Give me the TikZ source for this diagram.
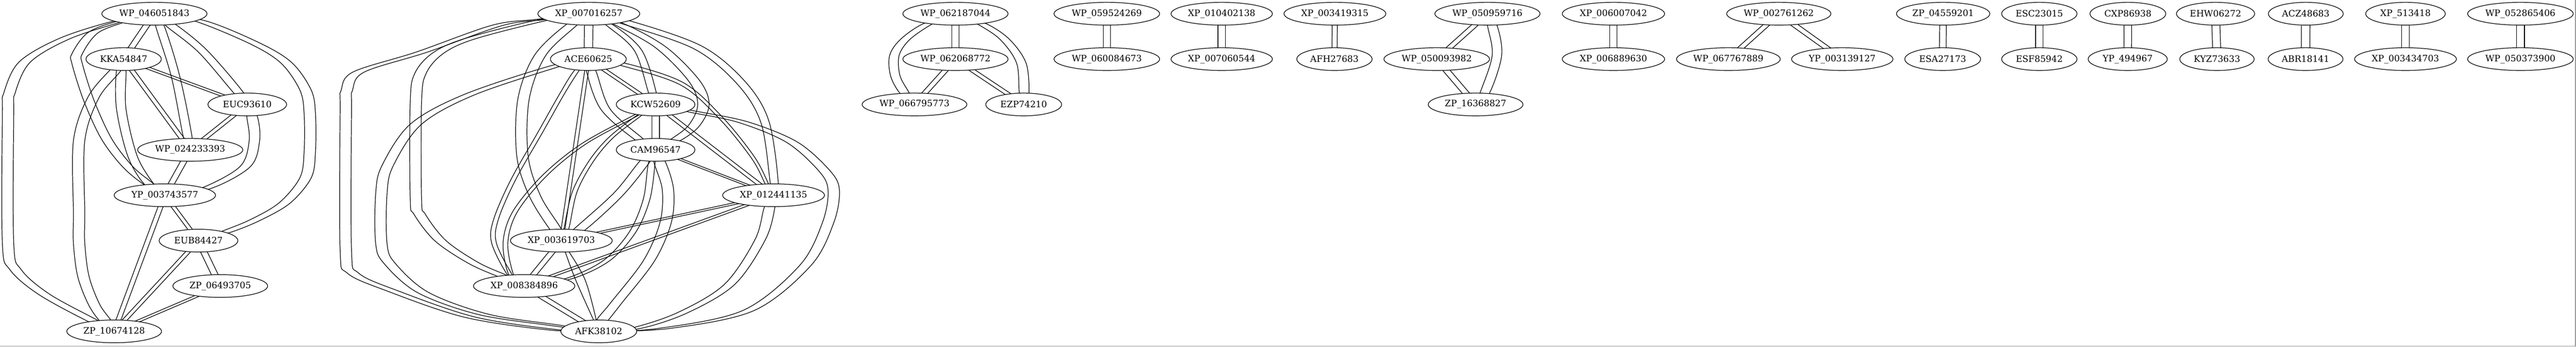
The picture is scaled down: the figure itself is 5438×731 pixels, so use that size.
\documentclass[tikz,border=0pt]{standalone}
\usepackage{fontspec}
\setmainfont{DejaVu Serif}
\usetikzlibrary{calc,shapes.geometric,backgrounds}
\tikzset{
  nd/.style={draw, ellipse, fill=white, line width=1pt, minimum height=36pt, inner sep=0pt, font=\fontsize{14}{16}\selectfont},
  wd/.style={minimum width=#1*0.75pt},
  lnk/.style={line width=1pt, line join=round}
}
\newcommand\spair[3]{%
  \draw[lnk] ($(#1.center)!#3*0.75pt!90:(#2.center)$) -- ($(#2.center)!#3*0.75pt!-90:(#1.center)$);
  \draw[lnk] ($(#1.center)!#3*0.75pt!-90:(#2.center)$) -- ($(#2.center)!#3*0.75pt!90:(#1.center)$);}
\newcommand\cpair[3]{%
  \draw[lnk,shift={(#1,#2)}] plot[smooth,tension=0.55] coordinates {#3};
  \draw[lnk,shift={({-(#1)},{-(#2)})}] plot[smooth,tension=0.55] coordinates {#3};}
\begin{document}
\begin{tikzpicture}[x=0.75pt,y=-0.75pt]
\useasboundingbox (0,0) rectangle (5438,731);
% component 1
\node[nd,wd=222] (A1) at (326,29) {WP\_046051843};
\node[nd,wd=159] (A2) at (261,124.7) {KKA54847};
\node[nd,wd=166] (A3) at (522,220.4) {EUC93610};
\node[nd,wd=222] (A4) at (401.5,316.1) {WP\_024233393};
\node[nd,wd=214] (A5) at (348,411.9) {YP\_003743577};
\node[nd,wd=166] (A6) at (419,507.6) {EUB84427};
\node[nd,wd=200] (A7) at (465,603.3) {ZP\_06493705};
\node[nd,wd=200] (A8) at (241,699) {ZP\_10674128};
% component 2
\node[nd,wd=215] (B1) at (1243,29) {XP\_007016257};
\node[nd,wd=160] (B2) at (1242,124.7) {ACE60625};
\node[nd,wd=166] (B3) at (1384,220.4) {KCW52609};
\node[nd,wd=166] (B4) at (1384,316.1) {CAM96547};
\node[nd,wd=215] (B5) at (1633,411.9) {XP\_012441135};
\node[nd,wd=215] (B6) at (1185,507.6) {XP\_003619703};
\node[nd,wd=214] (B7) at (1106.5,603.3) {XP\_008384896};
\node[nd,wd=160] (B8) at (1264,699) {AFK38102};
% component 3
\node[nd,wd=222] (C1) at (2017,29) {WP\_062187044};
\node[nd,wd=222] (C2) at (2017,124.7) {WP\_062068772};
\node[nd,wd=221] (C3) at (1930.5,220.4) {WP\_066795773};
\node[nd,wd=160] (C4) at (2161,220.4) {EZP74210};
% pairs
\node[nd,wd=223] (D1) at (2336.5,29) {WP\_059524269};
\node[nd,wd=223] (D2) at (2336.5,124.7) {WP\_060084673};
\node[nd,wd=214] (G1) at (2579,29) {XP\_010402138};
\node[nd,wd=214] (G2) at (2579,124.7) {XP\_007060544};
\node[nd,wd=215] (H1) at (2818,29) {XP\_003419315};
\node[nd,wd=159] (H2) at (2817,124.7) {AFH27683};
\node[nd,wd=222] (E1) at (3140,29) {WP\_050959716};
\node[nd,wd=223] (E2) at (3033,124.7) {WP\_050093982};
\node[nd,wd=200] (E3) at (3115,220.4) {ZP\_16368827};
\node[nd,wd=216] (I1) at (3406,29) {XP\_006007042};
\node[nd,wd=216] (I2) at (3406,124.7) {XP\_006889630};
\node[nd,wd=220] (F1) at (3755,29) {WP\_002761262};
\node[nd,wd=219] (F2) at (3648.6,124.7) {WP\_067767889};
\node[nd,wd=214] (F3) at (3889,124.7) {YP\_003139127};
\node[nd,wd=197] (J1) at (4102,29) {ZP\_04559201};
\node[nd,wd=160] (J2) at (4101,124.7) {ESA27173};
\node[nd,wd=159] (K1) at (4305,29) {ESC23015};
\node[nd,wd=159] (K2) at (4305,124.7) {ESF85942};
\node[nd,wd=160] (L1) at (4492,29) {CXP86938};
\node[nd,wd=167] (L2) at (4491.6,124.7) {YP\_494967};
\node[nd,wd=165] (M1) at (4677,29) {EHW06272};
\node[nd,wd=157] (M2) at (4680,124.7) {KYZ73633};
\node[nd,wd=158] (N1) at (4867.5,29) {ACZ48683};
\node[nd,wd=158] (N2) at (4867,124.7) {ABR18141};
\node[nd,wd=168] (P1) at (5078,29) {XP\_513418};
\node[nd,wd=215] (P2) at (5078,124.7) {XP\_003434703};
\node[nd,wd=223] (Q1) at (5320.6,29) {WP\_052865406};
\node[nd,wd=223] (Q2) at (5320.6,124.7) {WP\_050373900};

\begin{pgfonlayer}{background}
% component 1 edges
\spair{A1}{A2}{6}
\cpair{9}{0}{(A1.center) (337,53) (371,163) (397,293) (A4.center)}
\cpair{8}{-3}{(A1.center) (359,52) (428,108) (505,197) (A3.center)}
\cpair{12}{0}{(A1.center) (422,44) (539,92) (605,133) (645,190) (654,240) (654,320) (645,375) (601,428) (539,464) (475,490) (A6.center)}
\cpair{12}{0}{(A1.center) (242,47) (135,82) (52,131) (20,196) (17,240) (17,513) (33,569) (95,622) (204,681) (A8.center)}
\cpair{11}{0}{(A1.center) (251,47) (195,70) (163,113) (163,135) (188,213) (225,293) (270,352) (316,390) (A5.center)}
\spair{A2}{A3}{2.5}
\spair{A2}{A4}{4.5}
\cpair{10}{0}{(A2.center) (256,149) (256,230) (280,330) (316,390) (A5.center)}
\cpair{12}{0}{(A2.center) (243,149) (197,206) (167,297) (167,450) (167,513) (176,583) (199,643) (226,681) (A8.center)}
\spair{A3}{A4}{4}
\cpair{11}{0}{(A3.center) (532,245) (537,297) (517,352) (433,398) (A5.center)}
\spair{A4}{A5}{6}
\spair{A5}{A6}{4}
\spair{A5}{A8}{5}
\spair{A6}{A7}{6.5}
\spair{A6}{A8}{4}
\spair{A7}{A8}{2.5}
% component 2 edges
\spair{B1}{B2}{9}
\cpair{12}{0}{(B1.center) (1143,41) (1050,53.5) (890,110) (757,152) (732,191) (730,233) (730,527) (745,576) (827,613) (992,669) (1170,696) (B8.center)}
\cpair{12}{0}{(B2.center) (1170,140) (990,200) (878,262) (818,350) (805,410) (805,513) (822,555) (893,617) (1020,663) (1170,686) (B8.center)}
\cpair{12}{0}{(B1.center) (1143,43) (991,82) (925,112) (888,154) (878,214) (878,420) (886,452) (930,508) (1000,555) (1065,584) (B7.center)}
\cpair{12}{0}{(B1.center) (1207,52) (1140,117) (1105,210) (1103,330) (1130,415) (1175,487) (B6.center)}
\cpair{8}{0}{(B1.center) (1290,55) (1348,108) (1378,198) (B3.center)}
\cpair{12}{0}{(B1.center) (1305,50) (1395,100) (1465,170) (1485,220) (1465,265) (1425,296) (B4.center)}
\cpair{8}{-3}{(B1.center) (1318,46) (1473,100) (1565,175) (1615,258) (1635,390) (B5.center)}
\spair{B2}{B3}{3.5}
\cpair{10}{0}{(B2.center) (1248,150) (1278,230) (1348,293) (B4.center)}
\cpair{2}{-3}{(B2.center) (1316,136) (1440,177) (1523,250) (1590,333) (1620,390) (B5.center)}
\spair{B2}{B6}{4}
\cpair{5}{0}{(B2.center) (1218,148) (1187,197) (1140,280) (1083,380) (1047,463) (1043,513) (1078,582) (B7.center)}
\spair{B3}{B4}{8}
\spair{B3}{B5}{4}
\cpair{5}{0}{(B3.center) (1350,243) (1290,290) (1248,340) (1213,405) (1195,485) (B6.center)}
\cpair{5}{0}{(B3.center) (1343,243) (1233,303) (1150,370) (1087,447) (1067,513) (1080,582) (B7.center)}
\cpair{12}{0}{(B3.center) (1465,236) (1570,258) (1672,300) (1740,360) (1760,401) (1748,470) (1700,560) (1580,655) (1400,693) (B8.center)}
\spair{B4}{B5}{2}
\cpair{8}{4}{(B4.center) (1362,340) (1305,410) (1222,485) (B6.center)}
\cpair{7}{0}{(B4.center) (1376,343) (1365,420) (1335,490) (1280,550) (1200,588) (B7.center)}
\cpair{12}{0}{(B4.center) (1392,340) (1410,400) (1405,470) (1370,550) (1300,640) (1270,678) (B8.center)}
\spair{B5}{B6}{2}
\spair{B5}{B7}{2.5}
\cpair{11}{0}{(B5.center) (1625,436) (1605,505) (1540,600) (1440,660) (1340,693) (B8.center)}
\spair{B6}{B7}{5.5}
\cpair{10}{0}{(B6.center) (1225,590) (B8.center)}
\spair{B7}{B8}{5}
% component 3 edges
\spair{C1}{C2}{7.5}
\cpair{10}{0}{(C1.center) (1959,50) (1911,83) (1888,117) (1890,160) (1910,197) (C3.center)}
\cpair{10}{0}{(C1.center) (2072,50) (2121,83) (2156,133) (2162,197) (C4.center)}
\spair{C2}{C3}{5}
\spair{C2}{C4}{4}
% other components
\spair{D1}{D2}{7.7}
\spair{G1}{G2}{8}
\spair{H1}{H2}{5.4}
\spair{E1}{E2}{5}
\cpair{10}{0}{(E1.center) (3150,53) (3160,117) (3134,197) (E3.center)}
\spair{E2}{E3}{6}
\spair{I1}{I2}{7.5}
\spair{F1}{F2}{5}
\spair{F1}{F3}{5}
\spair{J1}{J2}{7}
\spair{K1}{K2}{8}
\spair{L1}{L2}{8}
\spair{M1}{M2}{8.5}
\spair{N1}{N2}{9}
\spair{P1}{P2}{8.5}
\spair{Q1}{Q2}{8.5}
\end{pgfonlayer}
% frame lines at the right and bottom edges
\draw[black!40, line width=1.1pt] (0,730) -- (5437,730) -- (5437,0);
\end{tikzpicture}
\end{document}
